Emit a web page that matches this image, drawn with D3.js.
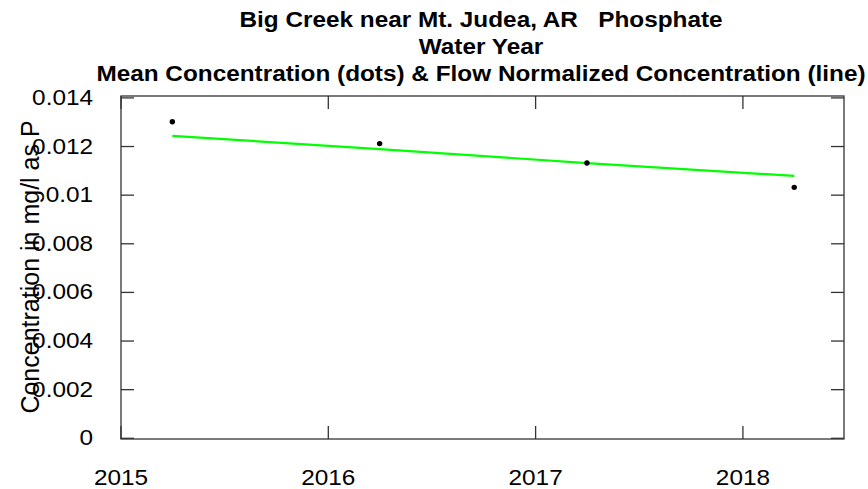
<!DOCTYPE html>
<html>
<head>
<meta charset="utf-8">
<script src="https://cdn.jsdelivr.net/npm/d3@7"></script>
<style>
  html, body { margin: 0; padding: 0; background: #fff; }
  svg { display: block; font-family: "Liberation Sans", Arial, sans-serif; }
</style>
</head>
<body>
<svg id="chart" width="868" height="489"></svg>
<script>
// ---- data ----
const titleLines = ["Big Creek near Mt. Judea, AR   Phosphate", "Water Year", "Mean Concentration (dots) & Flow Normalized Concentration (line)"];
const yLabel = "Concentration in mg/l as P";
const years = [2015.25, 2016.25, 2017.25, 2018.25];
const meanConc = [0.0130, 0.0121, 0.0113, 0.0103];
const flowNormConc = [0.01242, 0.01187, 0.01130, 0.01077];
const xTicks = [2015, 2016, 2017, 2018];
const yTicks = [0, 0.002, 0.004, 0.006, 0.008, 0.010, 0.012, 0.014];
const yTickLabels = ["0", "0.002", "0.004", "0.006", "0.008", "0.01", "0.012", "0.014"];

// ---- layout ----
const svg = d3.select("#chart");
const box = {left: 121, right: 844, top: 96, bottom: 439};
const x = d3.scaleLinear().domain([2015, 2018.49]).range([box.left - 0.5, box.right]);
const y = d3.scaleLinear().domain([0, 0.014]).range([437.8, 97.4]);
const tick = 13;
const hs = 1.107; // horizontal text stretch

// box
svg.append("rect")
  .attr("x", box.left).attr("y", box.top)
  .attr("width", box.right - box.left).attr("height", box.bottom - box.top)
  .attr("fill", "none").attr("stroke", "#333").attr("stroke-width", 1.3);

function style(g, fs) {
  g.select(".domain").remove();
  g.selectAll(".tick line").attr("stroke", "#333").attr("stroke-width", 1.3);
  g.selectAll("text").attr("font-size", fs).attr("fill", "#000")
    .attr("font-family", "Liberation Sans, Arial, sans-serif")
    .attr("transform", function() {
      const ax = +(this.getAttribute("x") || 0);
      return `translate(${ax},0) scale(${hs},1) translate(${-ax},0)`;
    });
}

// left axis
svg.append("g").attr("transform", `translate(${box.left},0)`)
  .call(d3.axisLeft(y).tickValues(yTicks).tickSize(-tick).tickPadding(28)
    .tickFormat((d, i) => yTickLabels[i]))
  .call(g => style(g, 22));
// right axis
svg.append("g").attr("transform", `translate(${box.right},0)`)
  .call(d3.axisRight(y).tickValues(yTicks).tickSize(-tick).tickFormat(""))
  .call(g => style(g, 22));
// bottom axis
svg.append("g").attr("transform", `translate(0,${box.bottom})`)
  .call(d3.axisBottom(x).tickValues(xTicks).tickSize(-tick).tickPadding(30)
    .tickFormat(d3.format("d")))
  .call(g => style(g, 22));
// top axis
svg.append("g").attr("transform", `translate(0,${box.top})`)
  .call(d3.axisTop(x).tickValues(xTicks).tickSize(-tick).tickFormat(""))
  .call(g => style(g, 22));

// flow normalized line
const lineData = years.map((yr, i) => [yr, flowNormConc[i]]);
svg.append("path")
  .datum(lineData)
  .attr("fill", "none")
  .attr("stroke", "#00ff00")
  .attr("stroke-width", 2.2)
  .attr("d", d3.line().x(d => x(d[0])).y(d => y(d[1])));

// mean points
svg.append("g").selectAll("circle")
  .data(years.map((yr, i) => [yr, meanConc[i]]))
  .join("circle")
  .attr("cx", d => x(d[0])).attr("cy", d => y(d[1]))
  .attr("r", 2.7).attr("fill", "#000");

// title
const cx = 481;
const titleY = [27, 54, 81];
svg.append("g").selectAll("text")
  .data(titleLines)
  .join("text")
  .attr("transform", (d, i) => `translate(${cx},${titleY[i]}) scale(${hs},1)`)
  .attr("text-anchor", "middle")
  .attr("font-size", 22).attr("font-weight", "bold")
  .attr("xml:space", "preserve")
  .style("white-space", "pre")
  .text(d => d);

// y label
svg.append("text")
  .attr("transform", `translate(39,267) rotate(-90)`)
  .attr("text-anchor", "middle")
  .attr("font-size", 25)
  .text(yLabel);
</script>
</body>
</html>
